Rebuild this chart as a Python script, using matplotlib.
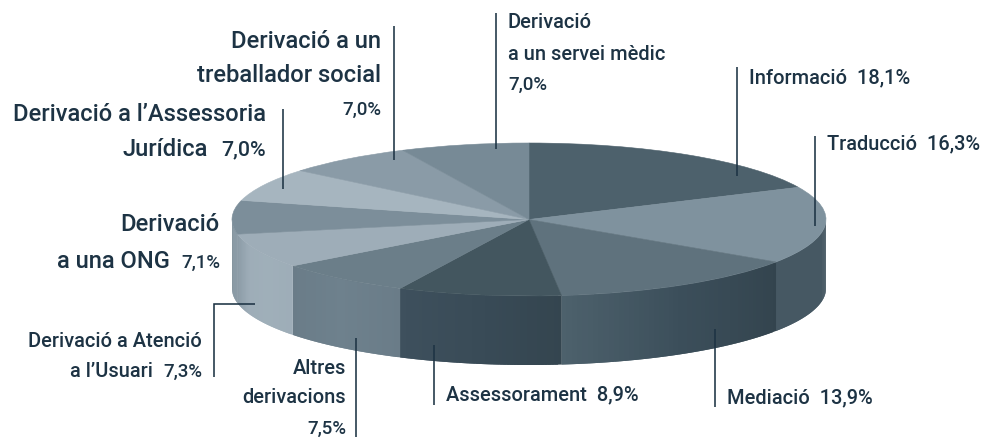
import numpy as np
import matplotlib
matplotlib.use("Agg")
import matplotlib.pyplot as plt
from matplotlib.colors import to_rgb

W, H = 982, 439

categories = ["Informació", "Traducció", "Mediació", "Assessorament", "Altres derivacions",
              "Derivació a Atenció a l'Usuari", "Derivació a una ONG",
              "Derivació a l'Assessoria Jurídica", "Derivació a un treballador social",
              "Derivació a un servei mèdic"]
values = [18.1, 16.3, 13.9, 8.9, 7.5, 7.3, 7.1, 7.0, 7.0, 7.0]
top_colors = ["#4d616c", "#7f929e", "#5f727d", "#43565f", "#6b7e89",
              "#9eadb8", "#7c8e9a", "#a6b5bf", "#8a9ba7", "#778a96"]
# side gradients, listed from the left of the picture to the right
side_stops = [["#4d616c"], ["#465863", "#465863"], ["#4d616c", "#3b4e5a", "#33444e"],
              ["#3e505d", "#394b57", "#34454f"], ["#6a7c88", "#6e818d", "#6a7c88"],
              ["#8a9aa5", "#9eadb8", "#9fafb9", "#9eadb8"], ["#7c8e9a", "#8495a1"],
              ["#a6b5bf"], ["#8a9ba7"], ["#778a96"]]

TEXT = "#1d3344"
plt.rcParams["font.family"] = ["Roboto", "DejaVu Sans"]


def pct(v):
    return f"{v:.1f}".replace(".", ",") + "%"


fig = plt.figure(figsize=(W / 100, H / 100), dpi=100)

left, right, top, bottom = 232, 826, 144, 366
rx, ry = (right - left) / 2, 76.5
depth = (bottom - top - 2 * ry) / ry
ax = fig.add_axes([left / W, 1 - bottom / H, (right - left) / W, (bottom - top) / H])

fracs = np.array(values) / sum(values)
edges = np.concatenate([[0], np.cumsum(fracs)]) * 2 * np.pi  # clockwise from the top

# side wall, front half only; overlapping strips give a smooth gradient
for i, stops in enumerate(side_stops):
    a0, a1 = max(edges[i], np.pi / 2), min(edges[i + 1], 3 * np.pi / 2)
    if a1 <= a0:
        continue
    stop_rgb = np.array([to_rgb(c) for c in stops])
    n = 48
    t = np.linspace(a0, a1, n + 1)
    for k in range(n):
        u = 1 - (k + .5) / n  # angle runs right to left in the picture
        col = [np.interp(u, np.linspace(0, 1, len(stops)), stop_rgb[:, c]) for c in range(3)]
        seg = t[k:min(k + 3, n + 1)]
        xx = np.sin(seg)
        yy = np.cos(seg)
        ax.fill(np.r_[xx, xx[::-1]], np.r_[yy, (yy - depth)[::-1]], color=col, lw=0, zorder=1 + i * 0.01)

wedges, _ = ax.pie(fracs, colors=top_colors, startangle=90, counterclock=False, radius=1,
                   normalize=False, wedgeprops=dict(linewidth=0.4))
for w, c in zip(wedges, top_colors):
    w.set_edgecolor(c)
    w.set_zorder(2)
ax.set_aspect("auto")
ax.set_xlim(-1, 1)
ax.set_ylim(-1 - depth, 1)
ax.axis("off")

ov = fig.add_axes([0, 0, 1, 1])
ov.set_xlim(0, W)
ov.set_ylim(H, 0)
ov.axis("off")
ov.patch.set_alpha(0)

leaders = [([496, 496], [14, 150]), ([737, 737], [68, 177]), ([815, 815], [137, 227]),
           ([715, 715], [330, 408]), ([434, 434], [346, 406]), ([356, 356], [339, 438]),
           ([214, 214, 255], [378, 305, 305]), ([283, 283], [110, 190]), ([394, 394], [27, 161])]
for xs, ys in leaders:
    ov.plot(xs, ys, color=TEXT, lw=1.15, solid_joinstyle="miter", solid_capstyle="butt")

LG, SM, PC, PCL = 17.1, 14.45, 13.5, 15.4


def lab(x, y, s, size, ha):
    ov.text(x, y, s, fontsize=size, ha=ha, va="center", color=TEXT, fontweight="medium")


lab(508, 23, "Derivació", SM, "left")
lab(508, 54, "a un servei mèdic", SM, "left")
lab(508, 85, pct(values[9]), PC, "left")
lab(749, 78, f"Informació  {pct(values[0])}", SM, "left")
lab(827, 144, f"Traducció  {pct(values[1])}", SM, "left")
lab(727, 398, f"Mediació  {pct(values[2])}", SM, "left")
lab(446, 395, f"Assessorament  {pct(values[3])}", SM, "left")
lab(346, 369, "Altres", SM, "right")
lab(346, 398, "derivacions", SM, "right")
lab(346, 429, pct(values[4]), PC, "right")
lab(202, 342, "Derivació a Atenció", SM, "right")
lab(153, 372, "a l’Usuari", SM, "right")
lab(202, 372, pct(values[5]), PC, "right")
lab(220, 225, "Derivació", LG, "right")
lab(170, 262, "a una ONG", LG, "right")
lab(220, 263, pct(values[6]), PC, "right")
lab(266, 115, "Derivació a l’Assessoria", LG, "right")
lab(208, 150, "Jurídica", LG, "right")
lab(266, 150, pct(values[7]), PCL, "right")
lab(381, 42, "Derivació a un", LG, "right")
lab(381, 76, "treballador social", LG, "right")
lab(381, 110, pct(values[8]), PC, "right")

fig.savefig("out.png", dpi=100)
